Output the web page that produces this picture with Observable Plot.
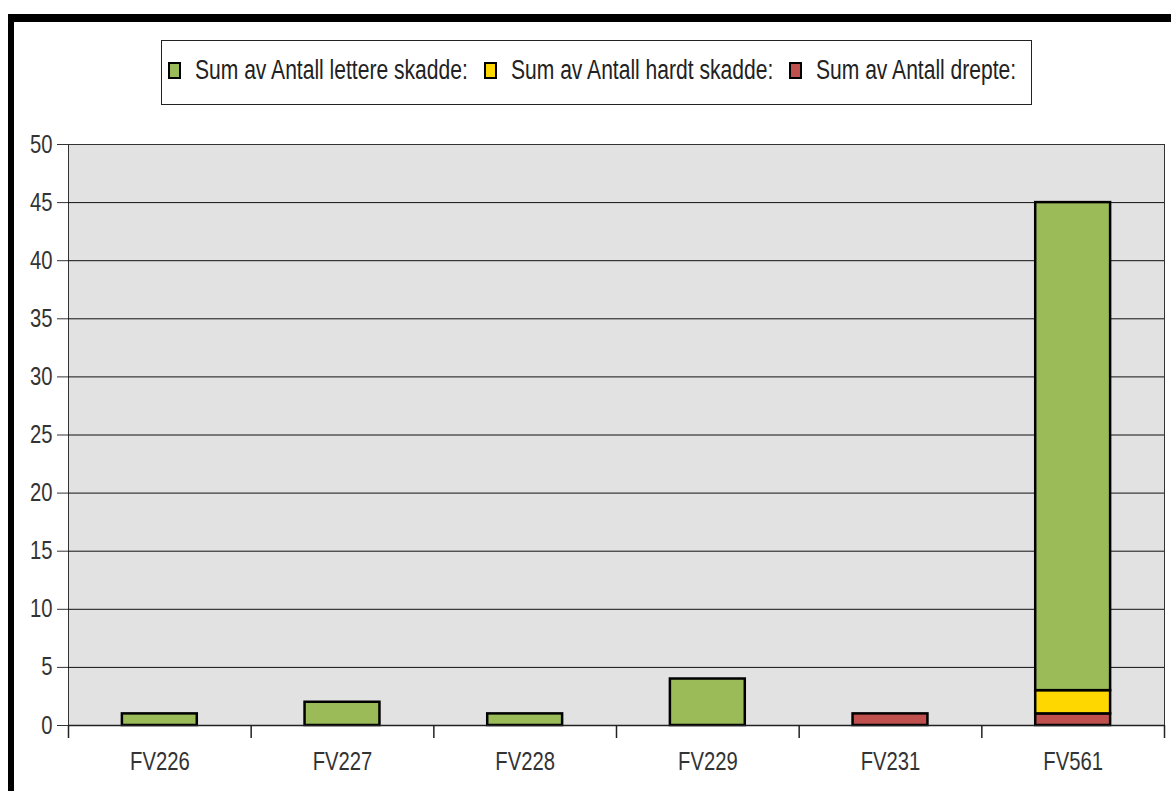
<!DOCTYPE html>
<html>
<head>
<meta charset="utf-8">
<script src="https://cdn.jsdelivr.net/npm/d3@7"></script>
<script src="https://cdn.jsdelivr.net/npm/@observablehq/plot@0.6"></script>
<style>
  html, body { margin: 0; padding: 0; background: #fff; }
  body { width: 1171px; height: 791px; overflow: hidden; }
  #wrap { position: relative; width: 1171px; height: 791px; overflow: hidden;
    font-family: "Liberation Sans Narrow", "Arial Narrow", "Liberation Sans", Arial, sans-serif; }
  #frame { position: absolute; left: 8px; top: 14px; width: 1400px; height: 1000px;
    border-left: 6px solid #000; border-top: 8px solid #000; box-sizing: border-box; }
  #legend { position: absolute; left: 161px; top: 40px; width: 871px; height: 65px;
    border: 1px solid #222; box-sizing: border-box; display: flex; align-items: center;
    padding: 0 0 4px 6px; background: #fff; }
  .item { display: flex; align-items: center; }
  .sw { width: 9px; height: 13px; border: 2px solid #000; margin-right: 14px; flex: none; }
  .lbl { display: inline-block; font-size: 27px; color: #222; white-space: nowrap;
    transform: scaleX(0.78); transform-origin: 0 50%; }
  #chart { position: absolute; left: 0; top: 120px; }
</style>
</head>
<body>
<div id="wrap">
  <div id="frame"></div>
  <div id="legend"></div>
  <div id="chart"></div>
</div>
<script>
const categories = ["FV226", "FV227", "FV228", "FV229", "FV231", "FV561"];
const seriesNames = ["Sum av Antall lettere skadde:", "Sum av Antall hardt skadde:", "Sum av Antall drepte:"];
const lettere = [1, 2, 1, 4, 0, 42];
const hardt   = [0, 0, 0, 0, 0, 2];
const drepte  = [0, 0, 0, 0, 1, 1];
const seriesColors = ["#9bbb59", "#ffd700", "#c0504d"];
const yTicks = [0, 5, 10, 15, 20, 25, 30, 35, 40, 45, 50];

const FONT = '"Liberation Sans Narrow", "Arial Narrow", "Liberation Sans", Arial, sans-serif';
const NARROW = 0.81;

// Legend (HTML, above the SVG)
const legend = document.getElementById("legend");
seriesNames.forEach((name, i) => {
  const it = document.createElement("div");
  it.className = "item";
  const sw = document.createElement("div");
  sw.className = "sw";
  sw.style.background = seriesColors[i];
  const lb = document.createElement("span");
  lb.className = "lbl";
  lb.textContent = name;
  it.appendChild(sw); it.appendChild(lb);
  legend.appendChild(it);
  const w = lb.offsetWidth;
  it.style.marginRight = (16 - w * (1 - 0.78)) + "px";
});

// Data table built from the arrays; drepte first so it stacks at the bottom
const data = categories.flatMap((c, i) => [
  {cat: c, series: seriesNames[2], value: drepte[i]},
  {cat: c, series: seriesNames[1], value: hardt[i]},
  {cat: c, series: seriesNames[0], value: lettere[i]}
]).filter(d => d.value > 0);

const W = 1171, H = 671, ML = 68, MR = 7, MT = 24, MB = 66;
const step = (W - ML - MR) / categories.length;

const chart = Plot.plot({
  width: W, height: H,
  marginLeft: ML, marginRight: MR, marginTop: MT, marginBottom: MB,
  style: {fontFamily: FONT, fontSize: "25px", background: "transparent", color: "#222"},
  x: {domain: categories, paddingInner: 0.59, paddingOuter: 0.295, round: false, label: null, axis: null},
  y: {domain: [0, 50], label: null, axis: null},
  color: {domain: seriesNames, range: seriesColors},
  marks: [
    Plot.frame({fill: "#e2e2e2", stroke: "#333", strokeWidth: 1}),
    Plot.ruleY(yTicks.filter(v => v > 0 && v < 50), {stroke: "#111", strokeWidth: 1}),
    Plot.barY(data, Plot.stackY({x: "cat", y: "value", fill: "series", stroke: "#000", strokeWidth: 2.5, order: null})),
    Plot.ruleY([0], {stroke: "#222", strokeWidth: 1.5}),
    Plot.ruleX(categories, {x: d => d, y1: 0, y2: 0, insetBottom: -13, dx: -step / 2, stroke: "#222", strokeWidth: 1.5}),
    Plot.ruleX(categories.slice(-1), {x: d => d, y1: 0, y2: 0, insetBottom: -13, dx: step / 2, stroke: "#222", strokeWidth: 1.5}),
    Plot.axisY({ticks: yTicks, tickSize: 11, tickPadding: 5, fontSize: 25, color: "#333", label: null}),
    Plot.axisX({tickSize: 0, tickPadding: 27, fontSize: 25, color: "#333", label: null})
  ]
});
// condense the axis labels horizontally (no narrow font installed)
chart.querySelectorAll('g[aria-label$="tick label"] text').forEach(el => {
  const t = el.getAttribute("transform") || "";
  el.setAttribute("transform", t + ` scale(${NARROW},1)`);
});
document.getElementById("chart").appendChild(chart);
</script>
</body>
</html>
